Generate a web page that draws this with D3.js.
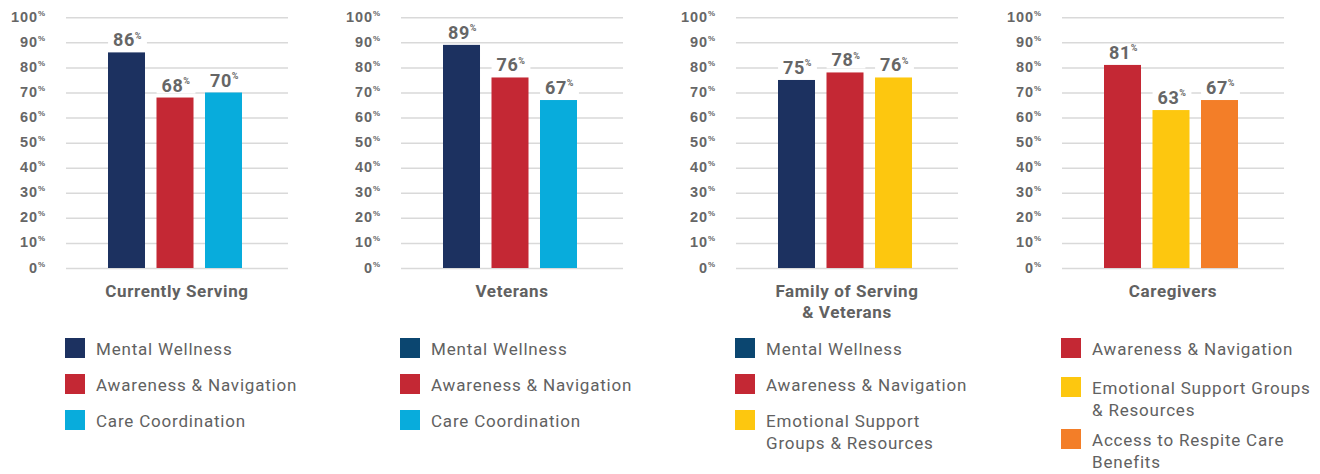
<!DOCTYPE html>
<meta charset="utf-8">
<head>
<style>
body { margin: 0; background: #fff; }
svg { font-family: Roboto, "Liberation Sans", sans-serif; }
.grid line { stroke: #d9d9d9; stroke-width: 1.5; }
.grid .domain { display: none; }
.grid text { fill: #666; font-size: 14.5px; font-weight: 700; letter-spacing: 0.9px; }
.value { fill: #666; font-size: 18px; font-weight: 700; letter-spacing: 0.5px; }
.cat { fill: #616161; font-size: 17px; font-weight: 700; letter-spacing: 0.6px; }
.legend text { fill: #616161; font-size: 17px; letter-spacing: 0.8px; }
</style>
</head>
<body>
<svg width="1320" height="474"></svg>
<script src="https://d3js.org/d3.v7.min.js"></script>
<script>

// values
var ticks = [0, 10, 20, 30, 40, 50, 60, 70, 80, 90, 100];

var servingSeries = ["Mental Wellness", "Awareness & Navigation", "Care Coordination"],
    servingValues = [86, 68, 70];

var veteranSeries = ["Mental Wellness", "Awareness & Navigation", "Care Coordination"],
    veteranValues = [89, 76, 67];

var familySeries = ["Mental Wellness", "Awareness & Navigation", "Emotional Support Groups & Resources"],
    familyValues = [75, 78, 76];

var caregiverSeries = ["Awareness & Navigation", "Emotional Support Groups & Resources", "Access to Respite Care Benefits"],
    caregiverValues = [81, 63, 67];

// how the legend entries wrap in each panel
var servingLegend = [["Mental Wellness"], ["Awareness & Navigation"], ["Care Coordination"]],
    veteranLegend = [["Mental Wellness"], ["Awareness & Navigation"], ["Care Coordination"]],
    familyLegend = [["Mental Wellness"], ["Awareness & Navigation"], ["Emotional Support", "Groups & Resources"]],
    caregiverLegend = [["Awareness & Navigation"], ["Emotional Support Groups", "& Resources"], ["Access to Respite Care", "Benefits"]];

var colors = {
  "Mental Wellness": "#1c3160",
  "Awareness & Navigation": "#c42834",
  "Care Coordination": "#08acdc",
  "Emotional Support Groups & Resources": "#fdc70f",
  "Access to Respite Care Benefits": "#f37e28"
};

var panels = [
  { title: ["Currently Serving"], series: servingSeries, values: servingValues, legend: servingLegend, x: 0, gap: 36, mwLegend: "#1c3160" },
  { title: ["Veterans"], series: veteranSeries, values: veteranValues, legend: veteranLegend, x: 335, gap: 36, mwLegend: "#0b4670" },
  { title: ["Family of Serving", "& Veterans"], series: familySeries, values: familyValues, legend: familyLegend, x: 670, gap: 36, mwLegend: "#0b4670" },
  { title: ["Caregivers"], series: caregiverSeries, values: caregiverValues, legend: caregiverLegend, x: 996, gap: 39, mwLegend: "#0b4670" }
];

var svg = d3.select("svg");

var gridW = 222;

var y = d3.scaleLinear().domain([0, 100]).range([268, 17.3]);

panels.forEach(function(p) {
  var g = svg.append("g").attr("transform", "translate(" + (p.x + 66) + ",0)");

  var x = d3.scaleBand()
      .domain(p.series)
      .range([42, 176])
      .paddingInner(0.237)
      .paddingOuter(0);

  var axis = g.append("g")
      .attr("class", "grid")
      .call(d3.axisLeft(y).tickValues(ticks).tickSize(-gridW).tickPadding(21));

  axis.selectAll(".tick text")
      .attr("dy", "0.28em")
      .text(null)
      .each(function(d) {
        var t = d3.select(this);
        t.append("tspan").text(d);
        t.append("tspan").attr("font-size", 8).attr("letter-spacing", 0).attr("dy", "-0.75em").text("%");
      });

  g.selectAll(".bar")
    .data(p.series)
    .enter().append("rect")
      .attr("class", "bar")
      .attr("x", function(d) { return x(d); })
      .attr("width", x.bandwidth())
      .attr("y", function(d, i) { return y(p.values[i]); })
      .attr("height", function(d, i) { return y(0) - y(p.values[i]); })
      .attr("fill", function(d) { return colors[d]; });

  var lab = g.selectAll(".lab")
    .data(p.series)
    .enter().append("g")
      .attr("class", "lab");

  var bg = lab.append("rect").attr("fill", "#fff");

  var txt = lab.append("text")
      .attr("class", "value")
      .attr("text-anchor", "middle")
      .attr("x", function(d) { return x(d) + x.bandwidth() / 2 + 1; })
      .attr("y", function(d, i) { return y(p.values[i]) - 6; });
  txt.append("tspan").text(function(d, i) { return p.values[i]; });
  txt.append("tspan").attr("font-size", 9).attr("dy", "-0.85em").text("%");

  bg.each(function() {
    var b = this.parentNode.querySelector("text").getBBox();
    d3.select(this)
      .attr("x", b.x - 5)
      .attr("width", b.width + 10)
      .attr("y", b.y + 2)
      .attr("height", b.height - 4);
  });

  g.append("text")
      .attr("class", "cat")
      .attr("text-anchor", "middle")
      .attr("x", gridW / 2)
      .attr("y", 297)
    .selectAll("tspan")
    .data(p.title)
    .enter().append("tspan")
      .attr("x", gridW / 2)
      .attr("dy", function(d, i) { return i ? 21 : 0; })
      .text(function(d) { return d; });

  // legend
  var leg = g.append("g").attr("class", "legend").attr("transform", "translate(-1,0)");
  var top = 338;
  p.series.forEach(function(s, i) {
    var lines = p.legend[i];
    leg.append("rect")
        .attr("x", 0)
        .attr("y", top)
        .attr("width", 20)
        .attr("height", 20)
        .attr("fill", s == "Mental Wellness" ? p.mwLegend : colors[s]);
    leg.append("text")
        .attr("x", 31)
        .attr("y", top + 17)
      .selectAll("tspan")
      .data(lines)
      .enter().append("tspan")
        .attr("x", 31)
        .attr("dy", function(d, j) { return j ? 21.5 : 0; })
        .text(function(d) { return d; });
    top += p.gap + (lines.length - 1) * 13;
  });
});

</script>
</body>
</html>
